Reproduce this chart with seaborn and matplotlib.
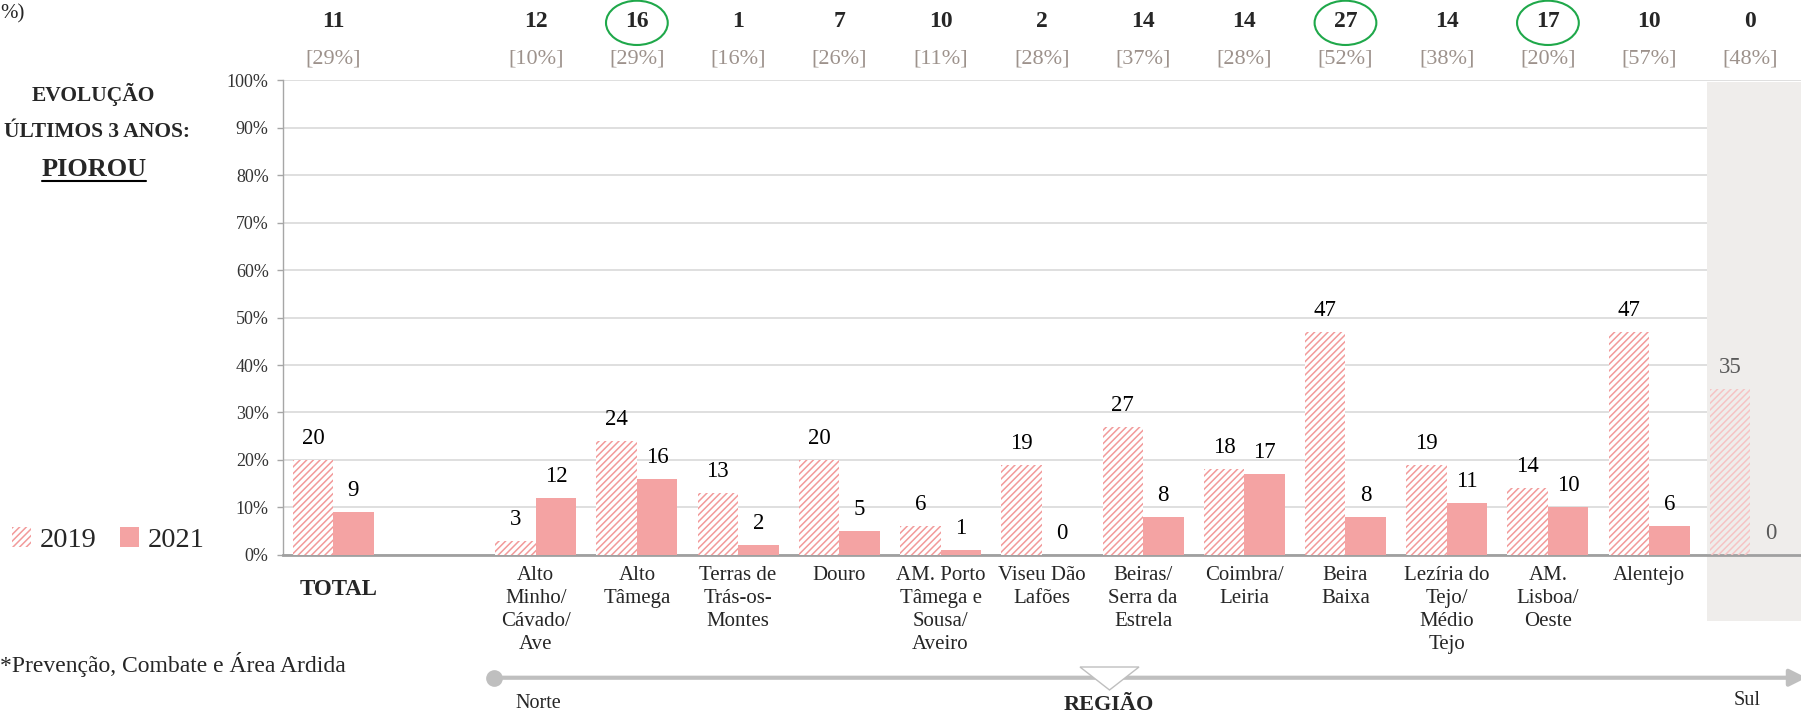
import pandas as pd
import seaborn as sns
import matplotlib.pyplot as plt
import matplotlib.transforms as mtransforms
from matplotlib.patches import Patch, Ellipse, Rectangle, Polygon
from matplotlib.lines import Line2D

# data
regions = ['Alto\nMinho/\nCávado/\nAve', 'Alto\nTâmega', 'Terras de\nTrás-os-\nMontes', 'Douro',
           'AM. Porto\nTâmega e\nSousa/\nAveiro', 'Viseu Dão\nLafões', 'Beiras/\nSerra da\nEstrela',
           'Coimbra/\nLeiria', 'Beira\nBaixa', 'Lezíria do\nTejo/\nMédio\nTejo', 'AM.\nLisboa/\nOeste',
           'Alentejo', 'Algarve*']
categories = ['TOTAL'] + regions
val_2019 = [20, 3, 24, 13, 20, 6, 19, 27, 18, 47, 19, 14, 47, 35]
val_2021 = [9, 12, 16, 2, 5, 1, 0, 8, 17, 8, 11, 10, 6, 0]
counts = [11, 12, 16, 1, 7, 10, 2, 14, 14, 27, 14, 17, 10, 0]
shares = [29, 10, 29, 16, 26, 11, 28, 37, 28, 52, 38, 20, 57, 48]
circled = ['Alto\nTâmega', 'Beira\nBaixa', 'AM.\nLisboa/\nOeste']

order = ['TOTAL', ' '] + regions
df = pd.DataFrame({'cat': categories * 2,
                   'year': ['2019'] * len(categories) + ['2021'] * len(categories),
                   'value': val_2019 + val_2021})

PINK = '#f4a3a3'
HATCH = '#f29a9a'
BAND = '#efedeb'
GREEN = '#1fa84a'
GREY_TXT = '#9d928c'
LINE = '#bfbfbf'

sns.set_style('white')
plt.rcParams['font.family'] = ['Liberation Serif', 'DejaVu Serif']
plt.rcParams['hatch.linewidth'] = 1.1

fig, ax = plt.subplots(figsize=(18.01, 7.14), dpi=100)
fig.subplots_adjust(left=0.1569, right=1.0, top=0.8874, bottom=0.2230)

sns.barplot(data=df, x='cat', y='value', hue='year', order=order, hue_order=['2019', '2021'],
            palette={'2019': 'white', '2021': PINK}, saturation=1, width=0.8, linewidth=0,
            legend=False, ax=ax, zorder=3)

# hatched 2019 bars
for bar in ax.containers[0]:
    bar.set_hatch('/////')
    bar.set_edgecolor(HATCH)
    bar.set_linewidth(0)
    if bar.get_x() > 13.3:
        bar.set_facecolor('none')
        bar.set_edgecolor('#f6c4c4')

# value labels
for cont in ax.containers:
    for bar in cont:
        h = bar.get_height()
        if pd.isna(h):
            continue
        x = bar.get_x() + bar.get_width() / 2
        col = '#595959' if x > 13.3 else 'black'
        ax.annotate(f'{h:.0f}', (x, h), xytext=(0, 15.5), textcoords='offset points',
                    ha='center', va='center', fontsize=16.5, color=col, zorder=5)

# shaded Algarve column
band = Rectangle((13.57, -0.14), 1.0, 1.137,
                 transform=mtransforms.blended_transform_factory(ax.transData, ax.transAxes),
                 facecolor=BAND, edgecolor='none', zorder=1, clip_on=False)
ax.add_patch(band)
ax.set_xlim(-0.5, 14.5)
ax.set_ylim(0, 100)

ax.set_yticks(range(0, 101, 10))
ax.set_yticklabels([f'{t}%' for t in range(0, 101, 10)])
ax.yaxis.grid(True, color='#d9d9d9', lw=1.2)
ax.set_axisbelow(True)
ax.tick_params(axis='y', left=True, length=4, width=1, color='#a6a6a6', labelsize=13,
               pad=6, labelcolor='#333333')
ax.tick_params(axis='x', length=0, pad=8, labelsize=15)
ax.set_xticks(range(len(order)))
ax.set_xticklabels(['', ''] + regions, linespacing=1.28, va='top')
ax.get_xticklabels()[-1].set_color('#7f7f7f')
ax.set_xlabel('')
ax.set_ylabel('')
for s in ['top', 'right']:
    ax.spines[s].set_visible(False)
ax.spines['left'].set_color('#a6a6a6')
ax.spines['left'].set_linewidth(1)
ax.spines['bottom'].set_color('#a0a0a0')
ax.spines['bottom'].set_linewidth(2)

xfig = mtransforms.blended_transform_factory(ax.transData, fig.transFigure)
ax.text(0.05, 0.1737, 'TOTAL', transform=xfig, ha='center', va='center',
        fontsize=16.5, weight='bold')

# counts and shares above the plot
for cat, n, p in zip(categories, counts, shares):
    x = order.index(cat)
    ax.text(x, 0.970, str(n), transform=xfig, ha='center', va='center',
            fontsize=17, weight='bold')
    ax.text(x, 0.918, f'[{p}%]', transform=xfig, ha='center', va='center',
            fontsize=16, color=GREY_TXT)
    if cat in circled:
        fig.add_artist(Ellipse((x, 0.968), width=0.61, height=0.062, transform=xfig,
                               fill=False, edgecolor=GREEN, lw=1.5, clip_on=False))

# left side texts
fig.text(0.0, 0.980, '%)', ha='left', va='center', fontsize=15)
fig.text(0.052, 0.868, 'EVOLUÇÃO', ha='center', va='center', fontsize=15.5, weight='bold')
fig.text(0.1055, 0.815, 'ÚLTIMOS 3 ANOS:', ha='right', va='center', fontsize=15.5, weight='bold')
fig.text(0.052, 0.763, 'PIOROU', ha='center', va='center', fontsize=19, weight='bold')
fig.add_artist(Line2D([0.0233, 0.0811], [0.7465, 0.7465], color='black', lw=1.5,
                      transform=fig.transFigure))

fig.legend(handles=[Patch(facecolor='white', edgecolor=HATCH, hatch='/////', lw=0, label='2019'),
                    Patch(facecolor=PINK, edgecolor='none', label='2021')],
           loc='center left', bbox_to_anchor=(0.0064, 0.2437), ncol=2, frameon=False,
           fontsize=20.5, handlelength=0.7, handleheight=0.7, handletextpad=0.3,
           columnspacing=0.8, borderaxespad=0, borderpad=0)

fig.text(0.0, 0.07, '*Prevenção, Combate e Área Ardida', ha='left', va='center', fontsize=17)

# region arrow Norte -> Sul
ya = 0.0508
ax.annotate('', xy=(1.003, ya), xytext=(0.2743, ya), xycoords='figure fraction',
            textcoords='figure fraction', annotation_clip=False,
            arrowprops=dict(arrowstyle='-|>', color=LINE, lw=3, mutation_scale=25,
                            shrinkA=0, shrinkB=0))
fig.add_artist(Line2D([0.2743], [ya], marker='o', markersize=11, color=LINE,
                      transform=fig.transFigure))
W, H = 1801, 714
tri = [(1080 / W, 1 - 667 / H), (1139 / W, 1 - 667 / H), (1109.5 / W, 1 - 690 / H)]
fig.add_artist(Polygon(tri, closed=True, facecolor='white', edgecolor=LINE, lw=1,
                       transform=fig.transFigure))
fig.text(538 / W, 0.0154, 'Norte', ha='center', va='center', fontsize=14.5)
fig.text(1747 / W, 0.0196, 'Sul', ha='center', va='center', fontsize=14.5)
fig.text(1109 / W, 0.006, 'REGIÃO', ha='center', va='baseline', fontsize=16, weight='bold')

plt.savefig('out.png', dpi=100)
plt.close()
